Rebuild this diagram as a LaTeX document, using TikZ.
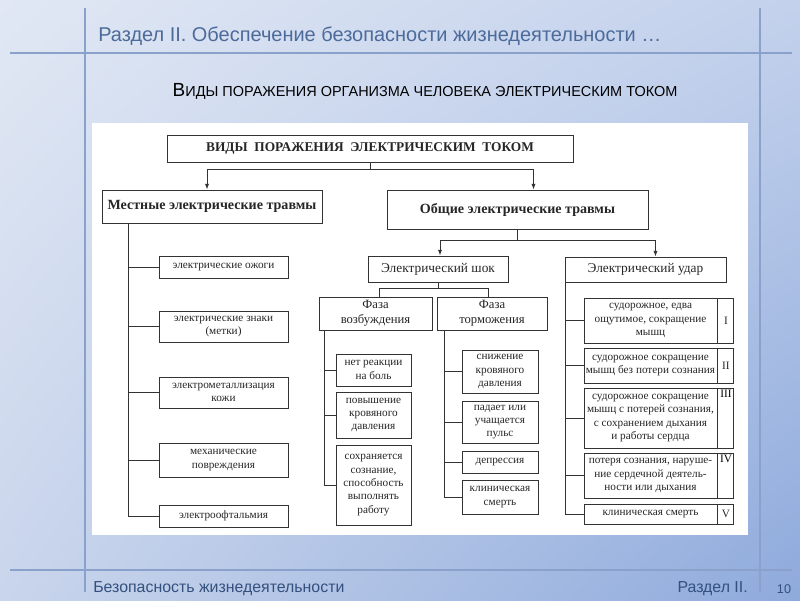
\documentclass[tikz,border=0pt]{standalone}
\usepackage{fontspec}
\setmainfont{Liberation Serif}
\newfontfamily\slidefont{Liberation Sans}
\usetikzlibrary{arrows.meta, positioning, shadings}

\definecolor{bgA}{HTML}{E1E8F4}
\definecolor{bgB}{HTML}{C3D1EC}
\definecolor{bgC}{HTML}{C9D5EC}
\definecolor{bgD}{HTML}{8EAADC}
\definecolor{rulecol}{HTML}{8AA2CB}
\definecolor{titlecol}{HTML}{4C6A9A}
\definecolor{footcol}{HTML}{34507E}

\begin{document}
\begin{tikzpicture}[
    x=0.25mm, y=-0.25mm,
    wh/.style 2 args={minimum width=#1*0.25mm, minimum height=#2*0.25mm},
    box/.style={draw=black!80, line width=0.7pt, fill=white, inner sep=1pt,
      align=center, text=black!85, font=\fontsize{8}{9.5}\selectfont},
    head/.style={box, font=\bfseries\fontsize{10}{12}\selectfont},
    mid/.style={box, font=\fontsize{9.5}{11}\selectfont},
    slide/.style={inner sep=0pt, text=footcol, font=\slidefont\fontsize{11.3}{14}\selectfont},
    link/.style={draw=black!80, line width=0.7pt},
    arrow/.style={link, -{Latex[length=4pt, width=3pt]}}
]
\useasboundingbox (0,0) rectangle (800,600);
\shade[upper left=bgA, upper right=bgB, lower left=bgC, lower right=bgD]
  (0,0) rectangle (800,600);
\draw[rulecol, line width=0.8pt] (10,53) -- (792,53);
\draw[rulecol, line width=0.8pt] (10,570) -- (792,570);
\draw[rulecol, line width=0.8pt] (85,8) -- (85,592);
\draw[rulecol, line width=0.8pt] (760,8) -- (760,592);
\fill[white] (92,123) rectangle (748,535);

\node[slide, anchor=base west, text=titlecol, font=\slidefont\fontsize{14.2}{17}\selectfont]
  (title) at (98,41) {Раздел II. Обеспечение безопасности жизнедеятельности …};
\node[anchor=base, inner sep=0pt, font=\slidefont] (subtitle) at (425,96)
  {{\fontsize{13.5}{15}\selectfont В}{\fontsize{10.3}{12}\selectfont ИДЫ ПОРАЖЕНИЯ ОРГАНИЗМА ЧЕЛОВЕКА ЭЛЕКТРИЧЕСКИМ ТОКОМ}};
\node[slide, anchor=base west] (foot) at (93,592) {Безопасность жизнедеятельности};
\node[slide, anchor=base east] (section) at (748,592) {Раздел II.};
\node[slide, anchor=base, font=\slidefont\fontsize{9}{11}\selectfont] (page) at (784,593) {10};

\node[box, wh={406}{27}, font=\bfseries\fontsize{9.5}{11}\selectfont] (top) at (370,148.5)
  {ВИДЫ\ \ ПОРАЖЕНИЯ\ \ ЭЛЕКТРИЧЕСКИМ\ \ ТОКОМ};
\node[head, wh={220}{33}] (mest) at (212,206.5) {Местные электрические травмы};
\node[head, wh={261}{39}] (obs) at (517.5,209.5) {Общие электрические травмы};

\node[box, wh={129}{22}] (m1) at (223.5,267) {электрические ожоги};
\node[box, wh={129}{31}] (m2) at (223.5,326.5) {электрические знаки\\(метки)};
\node[box, wh={129}{31}] (m3) at (223.5,392.5) {электрометаллизация\\кожи};
\node[box, wh={129}{34}] (m4) at (223.5,460) {механические\\повреждения};
\node[box, wh={129}{22}] (m5) at (223.5,516) {электроофтальмия};

\node[mid, wh={140}{26}] (shok) at (438,269) {Электрический шок};
\node[mid, wh={161}{25}] (udar) at (645.5,269.5) {Электрический удар};

\node[box, wh={113}{33}, font=\fontsize{9}{10.5}\selectfont] (fv) at (375.5,313.5) {Фаза\\возбуждения};
\node[box, wh={110}{33}, font=\fontsize{9}{10.5}\selectfont] (ft) at (492,313.5) {Фаза\\торможения};

\node[box, wh={75}{32}] (v1) at (373.5,370) {нет реакции\\на боль};
\node[box, wh={75}{46}] (v2) at (373.5,415) {повышение\\кровяного\\давления};
\node[box, wh={75}{80}] (v3) at (373.5,485) {сохраняется\\сознание,\\способность\\выполнять\\работу};

\node[box, wh={76}{43}] (t1) at (500,371.5) {снижение\\кровяного\\давления};
\node[box, wh={76}{42}] (t2) at (500,422) {падает или\\учащается\\пульс};
\node[box, wh={76}{22}] (t3) at (500,462) {депрессия};
\node[box, wh={76}{34}] (t4) at (500,497) {клиническая\\смерть};

\node[box, wh={133}{45}] (u1) at (650.5,320.5) {судорожное, едва\\ощутимое, сокращение\\мышц};
\node[box, wh={133}{35}] (u2) at (650.5,365.5) {судорожное сокращение\\мышц без потери сознания};
\node[box, wh={133}{60}] (u3) at (650.5,418) {судорожное сокращение\\мышц с потерей сознания,\\с сохранением дыхания\\и работы сердца};
\node[box, wh={133}{45}] (u4) at (650.5,475.5) {потеря сознания, наруше-\\ние сердечной деятель-\\ности или дыхания};
\node[box, wh={133}{20}] (u5) at (650.5,514) {клиническая смерть};

\node[box, wh={16}{45}, anchor=west] (n1) at (u1.east) {I};
\node[box, wh={16}{35}, anchor=west] (n2) at (u2.east) {II};
\node[box, wh={16}{60}, anchor=west,
  label={[anchor=north, inner sep=2pt, font=\fontsize{8}{9.5}\selectfont]north:III}] (n3) at (u3.east) {};
\node[box, wh={16}{45}, anchor=west,
  label={[anchor=north, inner sep=2pt, font=\fontsize{8}{9.5}\selectfont]north:IV}] (n4) at (u4.east) {};
\node[box, wh={16}{20}, anchor=west] (n5) at (u5.east) {V};

\draw[link] (top.south) -- ++(0,7) coordinate (j0);
\draw[arrow] (j0) -| ([xshift=-1.25mm]mest.north);
\draw[arrow] (j0) -| ([xshift=4mm]obs.north);
\draw[link] (obs.south) -- ++(0,11) coordinate (j1);
\draw[arrow] (j1) -| ([xshift=0.5mm]shok.north);
\draw[arrow] (j1) -| ([xshift=2.5mm]udar.north);
\draw[link] (shok.south) -- ++(0,6) coordinate (j2);
\draw[link] (j2) -| ([xshift=1mm]fv.north);
\draw[link] (j2) -| ([xshift=-1mm]ft.north);

\draw[link] ([xshift=-21mm]mest.south) coordinate (ms) |- (m5.west);
\foreach \n in {1,...,4}
  \draw[link] (ms |- m\n.west) -- (m\n.west);
\draw[link] ([xshift=1.5mm]fv.south west) coordinate (vs) |- (v3.west);
\foreach \n in {1,2}
  \draw[link] (vs |- v\n.west) -- (v\n.west);
\draw[link] ([xshift=2mm]ft.south west) coordinate (ts) |- (t4.west);
\foreach \n in {1,2,3}
  \draw[link] (ts |- t\n.west) -- (t\n.west);
\draw[link] ([xshift=0.25mm]udar.south west) coordinate (us) |- (u5.west);
\foreach \n in {1,...,4}
  \draw[link] (us |- u\n.west) -- (u\n.west);
\end{tikzpicture}
\end{document}
